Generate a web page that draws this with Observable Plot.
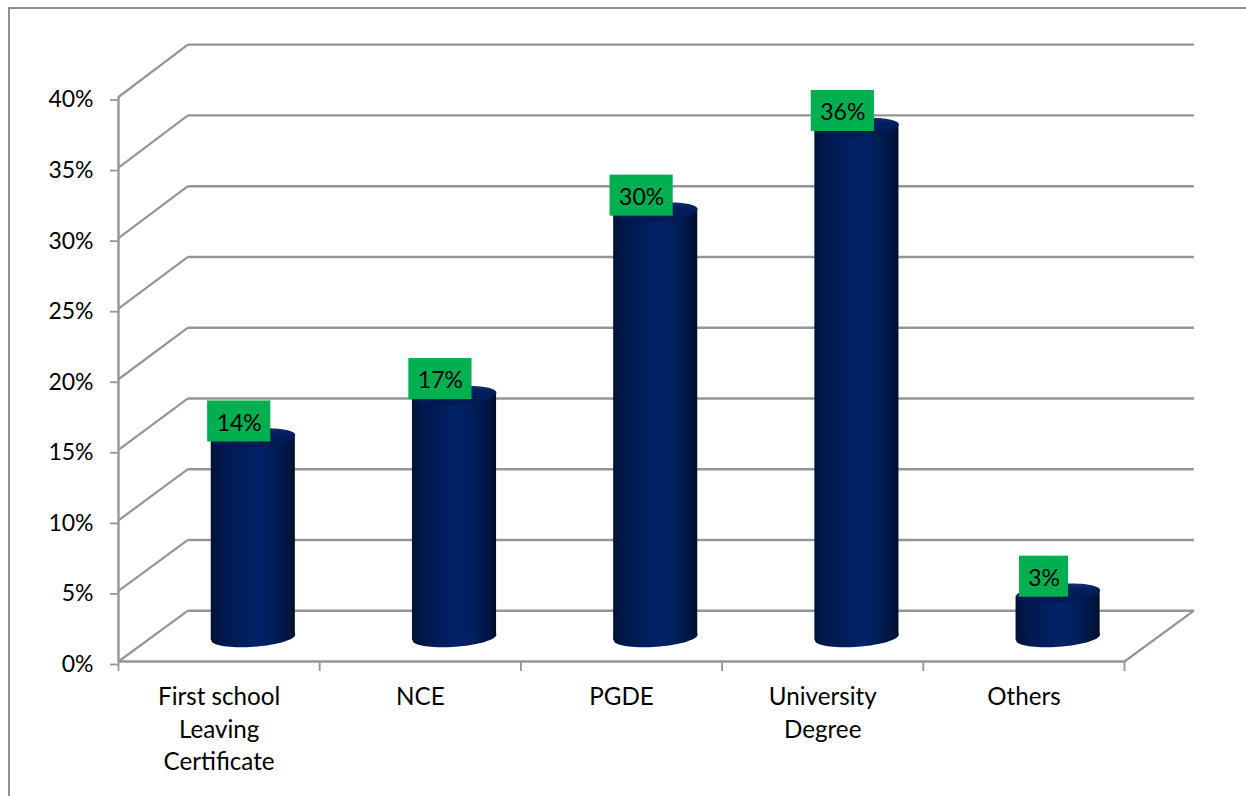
<!DOCTYPE html>
<html>
<head>
<meta charset="utf-8">
<script src="https://cdn.jsdelivr.net/npm/d3@7"></script>
<script src="https://cdn.jsdelivr.net/npm/@observablehq/plot@0.6"></script>
<style>
  html, body { margin: 0; padding: 0; background: #fff; overflow: hidden; }
  #chart { position: relative; width: 1246px; height: 796px; overflow: hidden; }
  #border { position: absolute; left: 8px; top: 7px; width: 1300px; height: 900px;
            border-left: 2px solid #8f8f8f; border-top: 2px solid #8f8f8f; }
  #chart svg { position: absolute; left: 0; top: 0; }
</style>
</head>
<body>
<div id="chart"><div id="border"></div></div>
<script>
// Highest qualification of respondents, as percentages
const categories = ["First school\nLeaving\nCertificate", "NCE", "PGDE", "University\nDegree", "Others"];
const percents = [14, 17, 30, 36, 3];
const valueLabels = ["14%", "17%", "30%", "36%", "3%"];
const yTicks = [0, 5, 10, 15, 20, 25, 30, 35, 40];
const xTicks = [0, 1, 2, 3, 4, 5];

// Oblique projection of the chart box, in scale units
const depthX = 0.345, depthY = 3.6, backScale = 1.0027;
const backY = d => d * backScale + depthY;
const GRID = "#969696";

// Cylinder proportions, also in scale units
const centerShift = 0.67;
const baseLevel = 1.7;
const topLevel = 1.84;
const halfWidth = 0.209;
const tilt = 0.21;

const centers = categories.map((_, i) => i + centerShift);

// The cylinder walls: one left and one right edge per bar
const walls = percents.flatMap((v, i) => [
  {i, x: centers[i] - halfWidth, y1: baseLevel - tilt, y2: topLevel + v - tilt},
  {i, x: centers[i] + halfWidth, y1: baseLevel + tilt, y2: topLevel + v + tilt}
]);

// A slightly rotated ellipse for the end caps of each cylinder
const ellipse = {
  draw(context) {
    const a = 42, b = 9.3, rot = -4.2 * Math.PI / 180;
    for (let k = 0; k < 72; ++k) {
      const t = (k / 72) * 2 * Math.PI;
      const ex = a * Math.cos(t), ey = b * Math.sin(t);
      const px = ex * Math.cos(rot) - ey * Math.sin(rot);
      const py = ex * Math.sin(rot) + ey * Math.cos(rot);
      if (k === 0) context.moveTo(px, py); else context.lineTo(px, py);
    }
    context.closePath();
  }
};

const gradients = () => {
  const defs = d3.create("svg:defs");
  defs.html(`
    <linearGradient id="wall" x1="0" x2="1" y1="0" y2="0">
      <stop offset="0" stop-color="#001238"/>
      <stop offset="0.12" stop-color="#00174a"/>
      <stop offset="0.3" stop-color="#001d58"/>
      <stop offset="0.55" stop-color="#02236a"/>
      <stop offset="0.75" stop-color="#001d58"/>
      <stop offset="0.92" stop-color="#001540"/>
      <stop offset="1" stop-color="#000e2c"/>
    </linearGradient>
    <linearGradient id="cap" x1="0" x2="0" y1="0" y2="1">
      <stop offset="0" stop-color="#1c3070"/>
      <stop offset="0.25" stop-color="#001f5e"/>
      <stop offset="1" stop-color="#001a50"/>
    </linearGradient>`);
  return defs.node();
};

const chart = Plot.plot({
  width: 1246,
  height: 796,
  marginLeft: 118,
  marginRight: 122,
  marginTop: 96.5,
  marginBottom: 135,
  style: {background: "transparent", fontFamily: "Lato, sans-serif"},
  x: {domain: [0, 5], axis: null},
  y: {domain: [0, 40], axis: null},
  marks: [
    gradients,
    // Back wall gridlines and the side wall diagonals
    Plot.link(yTicks, {x1: depthX, x2: 5 + depthX, y1: backY, y2: backY, stroke: GRID, strokeWidth: 2.4}),
    Plot.link(yTicks, {x1: 0, x2: depthX, y1: d => d, y2: backY, stroke: GRID, strokeWidth: 2.2}),
    // Right edge of the floor
    Plot.link([5], {x1: d => d, x2: d => d + depthX, y1: 0, y2: depthY, stroke: GRID, strokeWidth: 2.2}),
    // Axis lines and ticks
    Plot.ruleX([0], {y1: 0, y2: 40, stroke: GRID, strokeWidth: 2.4}),
    Plot.ruleY([0], {x1: 0, x2: 5, stroke: GRID, strokeWidth: 2.4}),
    Plot.axisY({
      ticks: yTicks,
      tickSize: 8,
      tickPadding: 17,
      tickFormat: d => `${d}%`,
      stroke: GRID,
      strokeWidth: 1.8,
      fill: "#000",
      fontSize: 23,
      dy: 3,
      label: null
    }),
    Plot.axisX({
      ticks: xTicks,
      tickSize: 10,
      tickFormat: () => "",
      stroke: GRID,
      strokeWidth: 1.8,
      label: null
    }),
    // Category labels below the floor
    Plot.text(categories, {
      x: (_, i) => i + 0.5,
      y: 0,
      text: d => d,
      lineAnchor: "top",
      dy: 21,
      lineHeight: 1.33,
      fontSize: 24.2,
      fill: "#000"
    }),
    // Cylinders: lower cap, walls, upper cap
    Plot.dot(percents, {x: (_, i) => centers[i], y: baseLevel, symbol: ellipse, fill: "url(#wall)"}),
    Plot.areaY(walls, {x: "x", y1: "y1", y2: "y2", z: "i", fill: "url(#wall)"}),
    Plot.dot(percents, {x: (_, i) => centers[i], y: d => topLevel + d, symbol: ellipse, fill: "url(#cap)"}),
    // Value labels on green tags
    Plot.rect(percents, {
      x1: (_, i) => centers[i] - 0.07 - (valueLabels[i].length > 2 ? 0.157 : 0.122),
      x2: (_, i) => centers[i] - 0.07 + (valueLabels[i].length > 2 ? 0.157 : 0.122),
      y1: d => topLevel + d + 1.17 - 1.454,
      y2: d => topLevel + d + 1.17 + 1.454,
      fill: "#00b050"
    }),
    Plot.text(percents, {
      x: (_, i) => centers[i] - 0.07,
      y: d => topLevel + d + 1.17,
      text: (_, i) => valueLabels[i],
      fontSize: 23,
      fill: "#000",
      dy: 2
    })
  ]
});

document.getElementById("chart").appendChild(chart);
</script>
</body>
</html>
